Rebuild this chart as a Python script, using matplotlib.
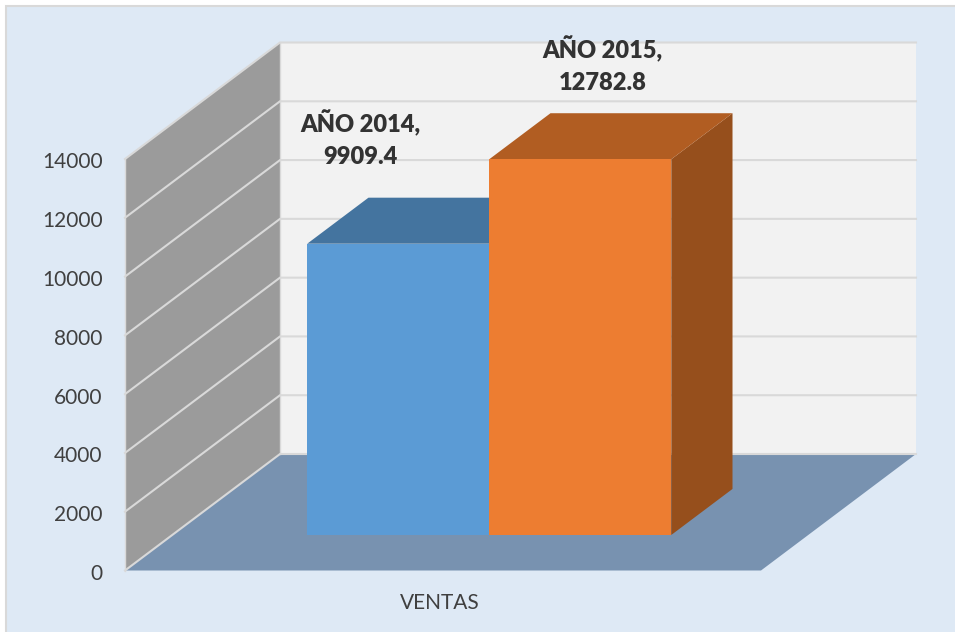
import matplotlib
matplotlib.use("Agg")
import matplotlib.pyplot as plt
from matplotlib.patches import Polygon, Rectangle
from matplotlib.transforms import ScaledTranslation

plt.rcParams["font.family"] = ["Lato", "DejaVu Sans"]

series_names = ["AÑO 2014", "AÑO 2015"]
series_values = [9909.4, 12782.8]
series_colors = ["#5B9BD5", "#ED7D31"]
top_colors = ["#44749F", "#B15D22"]
side_colors = ["#3C6690", "#964F1C"]
category = "VENTAS"
y_ticks = [0, 2000, 4000, 6000, 8000, 10000, 12000, 14000]

W, H = 955, 632
BG = "#DEE9F5"
GRID = "#D9D9D9"
TEXT = "#404040"

# oblique projection: full chart depth, in x axis units and y data units
DEPTH_X = 155 / 636
DEPTH_Y = 116.5 * 14000 / 411.5
BAR_WIDTH = 0.2862
BAR_LEFT = 0.2122
BAR_NEAR = 0.305
BAR_FAR = 0.70


def proj(x, y, d=0.0):
    return (x + d * DEPTH_X, y + d * DEPTH_Y)


def face(ax, pts, color, z, **kw):
    ax.add_patch(Polygon(pts, closed=True, facecolor=color, edgecolor=kw.pop("edgecolor", "none"),
                         linewidth=kw.pop("linewidth", 0), zorder=z, clip_on=False, **kw))


fig = plt.figure(figsize=(W / 100, H / 100), dpi=100, facecolor="white")
fig.add_artist(Rectangle((6 / W, -0.02), 1.0, 1.02 - 6.5 / H, transform=fig.transFigure,
                         facecolor=BG, edgecolor=GRID, linewidth=1.5, zorder=-1))

ax = fig.add_axes([125 / W, (H - 570.5) / H, 636 / W, 411.5 / H])
ax.set_xlim(0, 1)
ax.set_ylim(0, 14000)
ax.patch.set_visible(False)
for s in ax.spines.values():
    s.set_visible(False)

top = y_ticks[-1]
# back wall, side wall, floor
face(ax, [proj(0, 0, 1), proj(1, 0, 1), proj(1, top, 1), proj(0, top, 1)], "#F2F2F2", 1)
face(ax, [proj(0, 0), proj(0, 0, 1), proj(0, top, 1), proj(0, top)], "#9B9B9B", 1)
face(ax, [proj(0, 0), proj(1, 0), proj(1, 0, 1), proj(0, 0, 1)], "#7892B0", 1)

for t in y_ticks:
    x0, y0 = proj(0, t)
    x1, y1 = proj(0, t, 1)
    x2, y2 = proj(1, t, 1)
    ax.plot([x0, x1, x2], [y0, y1, y2], color=GRID, linewidth=1.5, zorder=2,
            clip_on=False, solid_joinstyle="miter")
ax.plot(*zip(proj(0, 0), proj(0, top)), color=GRID, linewidth=1, zorder=2, clip_on=False)
ax.plot(*zip(proj(0, 0, 1), proj(0, top, 1)), color=GRID, linewidth=1, zorder=2, clip_on=False)

# bars, back to front and left to right
for i, v in enumerate(series_values):
    x0 = BAR_LEFT + i * BAR_WIDTH
    x1 = x0 + BAR_WIDTH
    z = 3 + i
    face(ax, [proj(x1, 0, BAR_NEAR), proj(x1, 0, BAR_FAR), proj(x1, v, BAR_FAR), proj(x1, v, BAR_NEAR)],
         side_colors[i], z)
    face(ax, [proj(x0, v, BAR_NEAR), proj(x1, v, BAR_NEAR), proj(x1, v, BAR_FAR), proj(x0, v, BAR_FAR)],
         top_colors[i], z)
    face(ax, [proj(x0, 0, BAR_NEAR), proj(x1, 0, BAR_NEAR), proj(x1, v, BAR_NEAR), proj(x0, v, BAR_NEAR)],
         series_colors[i], z)

label_offsets = [(-27, 75.5), (16, 68)]
for i, v in enumerate(series_values):
    xc = BAR_LEFT + (i + 0.5) * BAR_WIDTH
    ax.annotate(f"{series_names[i]},\n{v}", xy=proj(xc, v, BAR_NEAR), xytext=label_offsets[i],
                textcoords="offset points", ha="center", va="center", fontsize=17,
                fontweight="heavy", color="#333333", linespacing=1.52, zorder=10,
                annotation_clip=False)

ax.set_yticks(y_ticks)
ax.set_yticklabels([str(t) for t in y_ticks], fontsize=15, color=TEXT)
ax.set_xticks([0.5])
ax.set_xticklabels([category], fontsize=15, color=TEXT)
ax.tick_params(axis="y", length=0, pad=16)
ax.tick_params(axis="x", length=0, pad=16.5)
# tick labels sit a little off the wall edge in the original
nudge = ScaledTranslation(0, -1.5 / 100, fig.dpi_scale_trans)
for lbl in ax.get_yticklabels():
    lbl.set_transform(lbl.get_transform() + nudge)
nudge_x = ScaledTranslation(-3 / 100, 0, fig.dpi_scale_trans)
for lbl in ax.get_xticklabels():
    lbl.set_transform(lbl.get_transform() + nudge_x)

fig.savefig("out.png", dpi=100, facecolor=fig.get_facecolor())
